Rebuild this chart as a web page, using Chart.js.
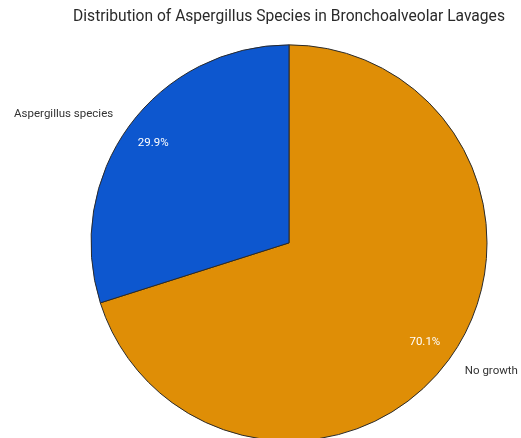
<!DOCTYPE html>
<html>
<head>
<meta charset="utf-8">
<script src="https://cdn.jsdelivr.net/npm/chart.js@4/dist/chart.umd.min.js"></script>
<style>
  html, body { margin: 0; padding: 0; background: #ffffff; }
  #wrap { width: 521px; height: 438px; position: relative; }
</style>
</head>
<body>
<div id="wrap"><canvas id="c" width="521" height="438"></canvas></div>
<script>
const categories = ['No growth', 'Aspergillus species'];
const shares = [70.1, 29.9];
const sliceColors = ['#df8e06', '#0d57cf'];
const titleText = 'Distribution of Aspergillus Species in Bronchoalveolar Lavages';

// Draws the percentage inside each slice and the category name outside it.
const sliceLabels = {
  id: 'sliceLabels',
  afterDatasetsDraw(chart) {
    const ctx = chart.ctx;
    const meta = chart.getDatasetMeta(0);
    ctx.save();
    meta.data.forEach((arc, i) => {
      const { x, y, startAngle, endAngle, outerRadius } = arc.getProps(['x', 'y', 'startAngle', 'endAngle', 'outerRadius'], true);
      const mid = (startAngle + endAngle) / 2;
      const cos = Math.cos(mid), sin = Math.sin(mid);
      // percentage
      ctx.font = '11.5px Roboto, "Open Sans", sans-serif';
      ctx.fillStyle = '#ffffff';
      ctx.textAlign = 'center';
      ctx.textBaseline = 'middle';
      const pr = outerRadius * 0.85;
      ctx.fillText(shares[i].toFixed(1) + '%', x + cos * pr, y + sin * pr);
      // category name
      ctx.fillStyle = '#333333';
      const lr = outerRadius * 1.1;
      ctx.textAlign = cos < 0 ? 'right' : 'left';
      ctx.fillText(categories[i], x + cos * lr, y + sin * lr);
    });
    ctx.restore();
  }
};

new Chart(document.getElementById('c'), {
  type: 'pie',
  data: {
    labels: categories,
    datasets: [{
      data: shares,
      backgroundColor: sliceColors,
      borderColor: '#2a2a2a',
      borderWidth: 1
    }]
  },
  options: {
    responsive: false,
    animation: false,
    radius: 198,
    layout: { padding: { left: 57, right: 0, top: 0, bottom: 0 } },
    plugins: {
      legend: { display: false },
      tooltip: { enabled: false },
      title: {
        display: true,
        text: titleText,
        fullSize: false,
        color: '#2a2a2a',
        font: { family: 'Roboto, "Open Sans", sans-serif', size: 15.6, weight: 'normal' },
        padding: { top: 8, bottom: 21 }
      }
    }
  },
  plugins: [sliceLabels]
});
</script>
</body>
</html>
